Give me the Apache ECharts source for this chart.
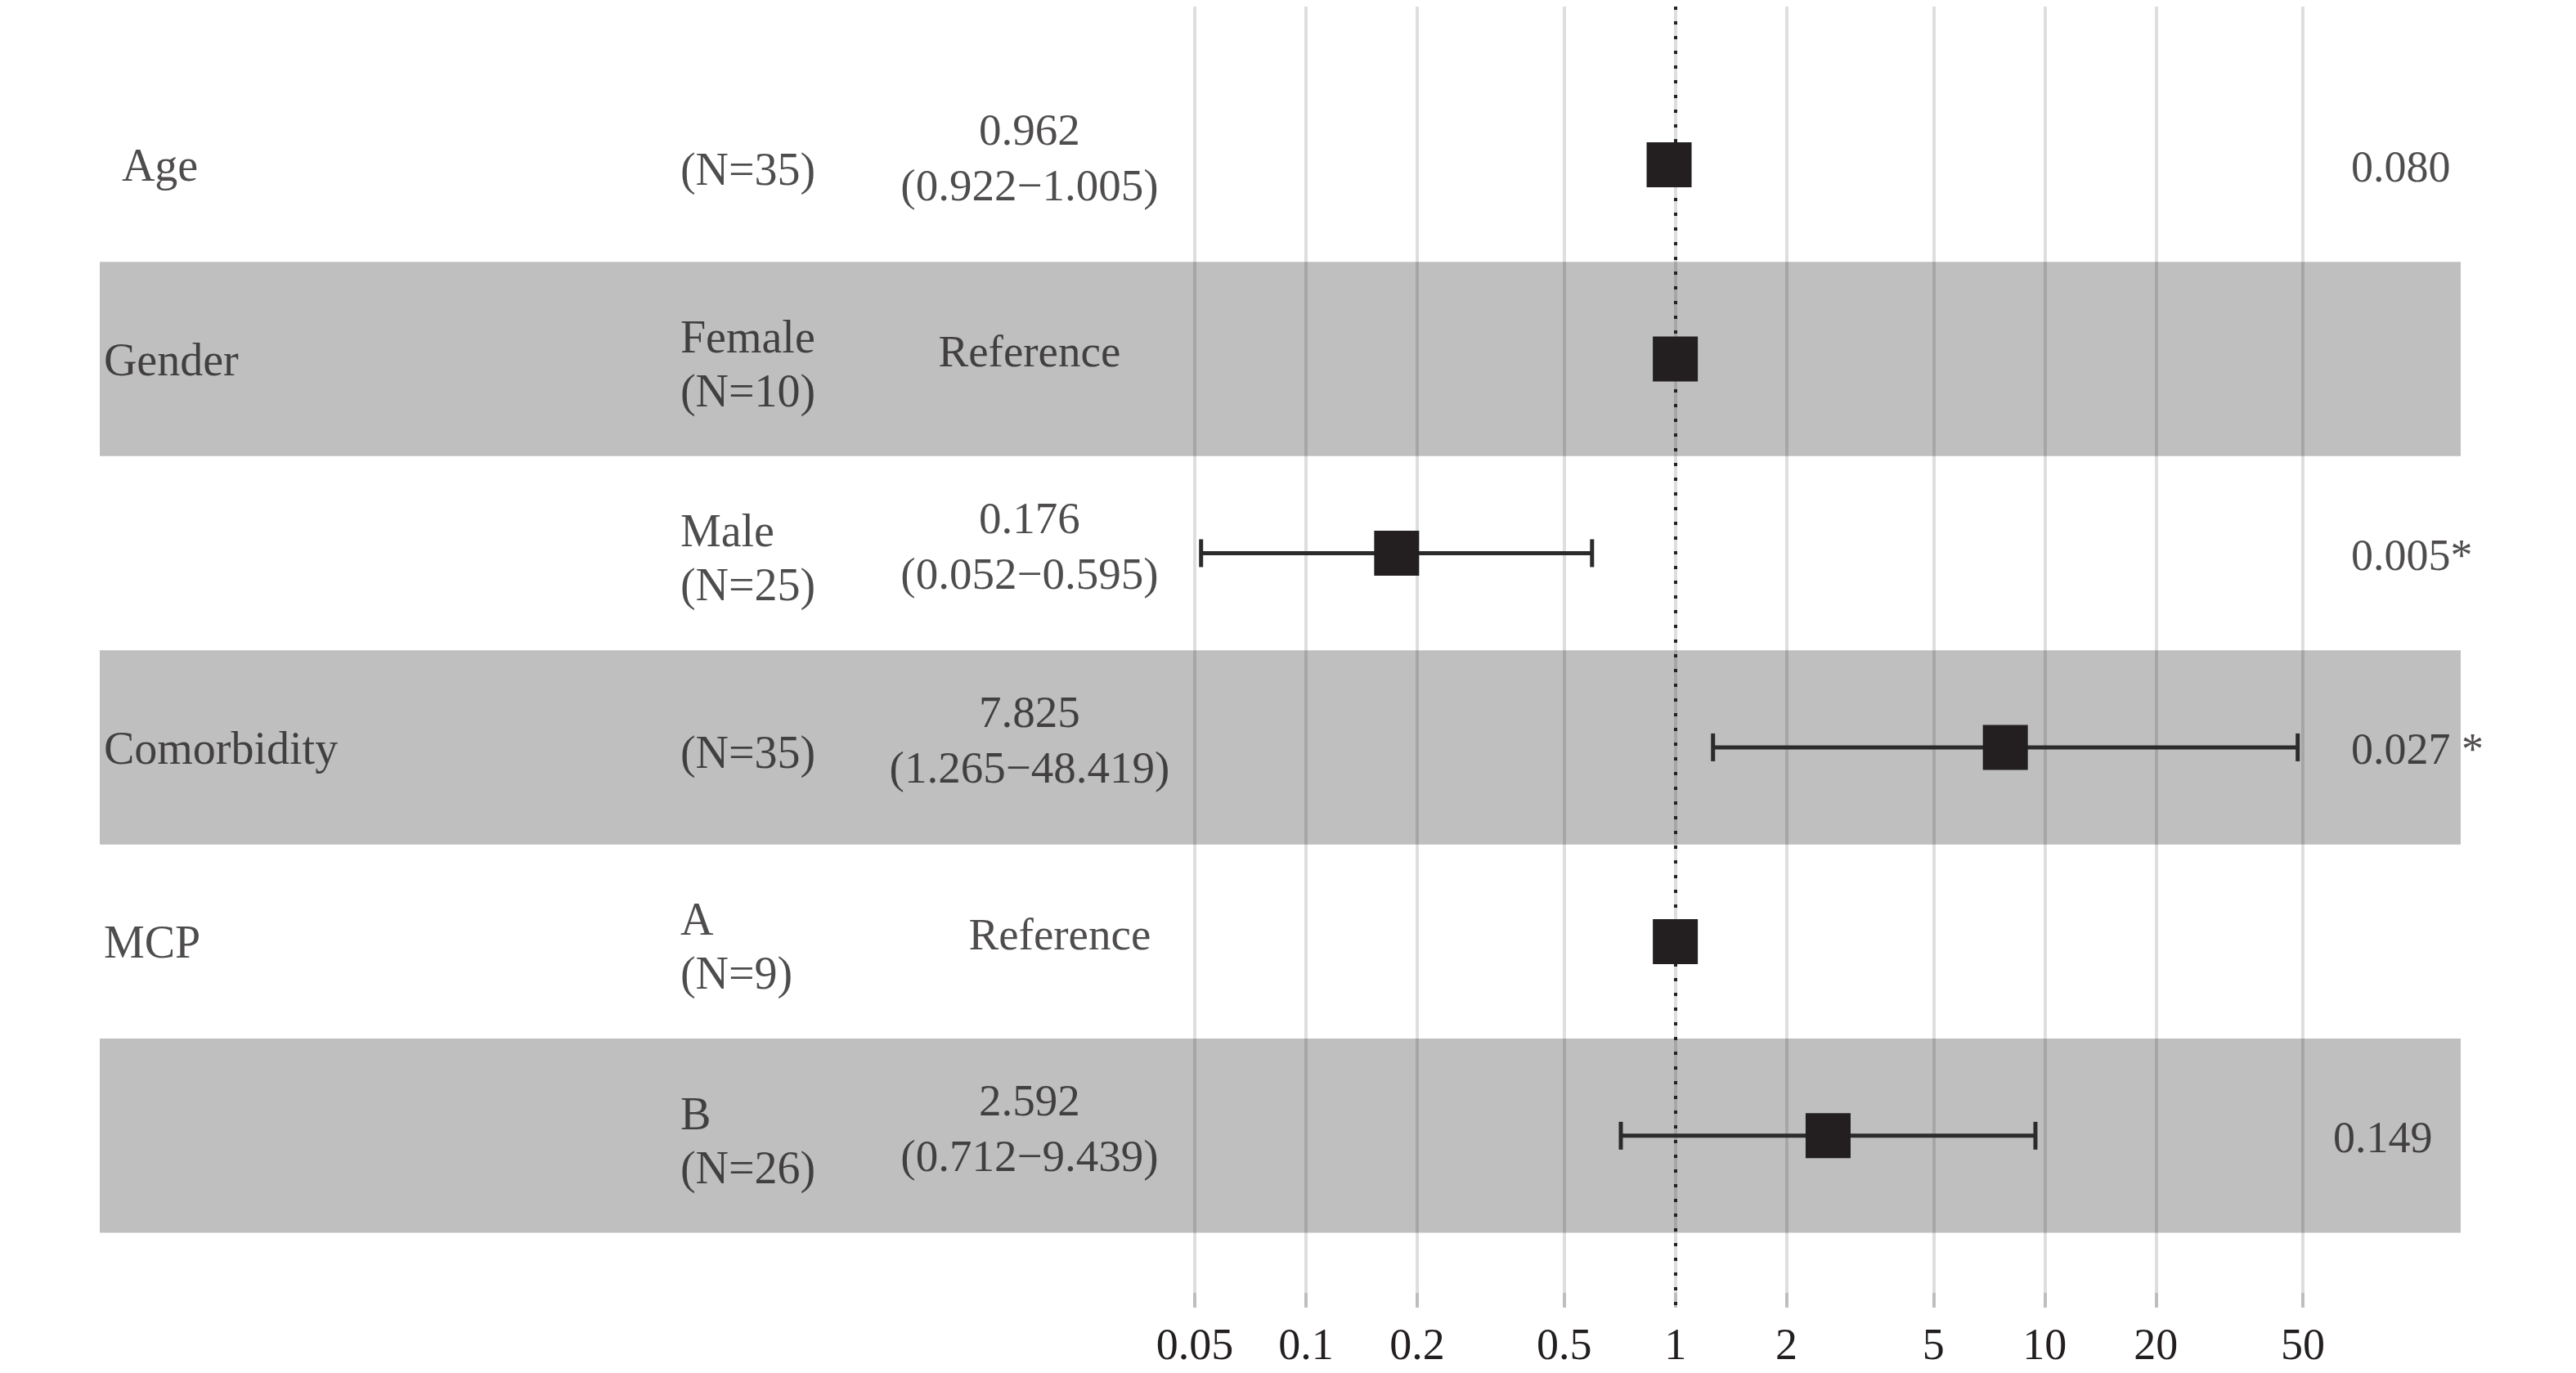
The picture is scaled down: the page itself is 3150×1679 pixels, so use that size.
<!DOCTYPE html>
<html><head><meta charset="utf-8">
<script src="https://cdn.jsdelivr.net/npm/echarts@6/dist/echarts.min.js"></script>
<style>html,body{margin:0;padding:0;background:#fff}#c{width:3150px;height:1679px}</style>
</head><body><div id="c"></div>
<script>
// ---- data ----
const variables = ['Age', 'Gender', '', 'Comorbidity', 'MCP', ''];
const levels = ['(N=35)', 'Female\n(N=10)', 'Male\n(N=25)', '(N=35)', 'A\n(N=9)', 'B\n(N=26)'];
const oddsRatio = [0.962, 1, 0.176, 7.825, 1, 2.592];
const ciLower = [0.922, null, 0.052, 1.265, null, 0.712];
const ciUpper = [1.005, null, 0.595, 48.419, null, 9.439];
const isReference = [false, true, false, false, true, false];
const pValues = ['0.080', '', '0.005*', '0.027 *', '', '0.149'];
const tickValues = [0.05, 0.1, 0.2, 0.5, 1, 2, 5, 10, 20, 50];
const tickLabels = ['0.05', '0.1', '0.2', '0.5', '1', '2', '5', '10', '20', '50'];
const nullLine = 1;

// ---- build ----
const FONT = 'Liberation Serif';
const INK = '#231f20';
const rowMin = -0.815, rowMax = 5.885;
const gridTop = 8, gridHeight = 1591;
const logTicks = tickValues.map(v => Math.log10(v));

const orTexts = oddsRatio.map((v, i) => isReference[i] ? 'Reference'
  : v.toFixed(3) + '\n(' + ciLower[i].toFixed(3) + '\u2212' + ciUpper[i].toFixed(3) + ')');

const nudge = { name: { 0: 22 }, or: { 4: 37 }, p: { 5: -22 } };

function textSeries(texts, x, align, key, size, lh, dy) {
  return {
    type: 'scatter', xAxisIndex: 0, yAxisIndex: 0, symbolSize: 0, silent: true, z: 4,
    data: texts.map((t, i) => t ? {
      value: [x, i, t],
      label: { offset: [(nudge[key] && nudge[key][i]) || 0, dy] }
    } : null).filter(d => d),
    label: {
      show: true, position: 'inside', align: align, verticalAlign: 'middle',
      formatter: p => p.value[2], fontFamily: FONT, fontSize: size, color: INK, lineHeight: lh
    }
  };
}

const bandRows = variables.map((_, i) => i).filter(i => i % 2 === 1);

const nameSeries = textSeries(variables, 0.0017, 'left', 'name', 56, 66, 5);
nameSeries.markArea = {
  silent: true, z: 1,
  itemStyle: { color: '#bfbfbf' },
  label: { show: false },
  data: bandRows.map(r => [{ yAxis: r - 0.5 }, { yAxis: r + 0.5 }])
};

const ciData = [];
oddsRatio.forEach((v, i) => {
  if (ciLower[i] != null) ciData.push([Math.log10(ciLower[i]), Math.log10(ciUpper[i]), i]);
});

const option = {
  backgroundColor: '#fff',
  animation: false,
  textStyle: { fontFamily: FONT },
  grid: [
    { left: 122, width: 2887, top: gridTop, height: gridHeight },
    { left: 1461, width: 1355, top: gridTop, height: gridHeight }
  ],
  xAxis: [
    { gridIndex: 0, type: 'value', min: 0, max: 1, show: false },
    {
      gridIndex: 1, type: 'value', z: 3, position: 'bottom',
      min: logTicks[0], max: logTicks[logTicks.length - 1],
      axisLine: { show: false, onZero: false },
      axisTick: { show: true, inside: true, length: 18, customValues: logTicks,
        lineStyle: { color: 'rgba(0,0,0,0.14)', width: 4 } },
      axisLabel: {
        customValues: logTicks, fontFamily: FONT, fontSize: 54, color: INK, margin: 22,
        formatter: val => {
          const k = logTicks.findIndex(t => Math.abs(t - val) < 1e-6);
          return k >= 0 ? tickLabels[k] : '';
        }
      },
      splitLine: { show: true, lineStyle: { color: 'rgba(0,0,0,0.13)', width: 4 } }
    }
  ],
  yAxis: [
    { gridIndex: 0, type: 'value', min: rowMin, max: rowMax, inverse: true, show: false },
    { gridIndex: 1, type: 'value', min: rowMin, max: rowMax, inverse: true, show: false }
  ],
  series: [
    nameSeries,
    textSeries(levels, 0.2459, 'left', 'lvl', 56, 66, 10),
    textSeries(orTexts, 0.3938, 'center', 'or', 55, 68, -5),
    textSeries(pValues, 0.9536, 'left', 'p', 54, 66, 6),
    {
      type: 'custom', xAxisIndex: 1, yAxisIndex: 1, z: 5, silent: true,
      data: ciData,
      encode: { x: [0, 1], y: 2 },
      renderItem: (params, api) => {
        const y = api.value(2);
        const a = api.coord([api.value(0), y]);
        const b = api.coord([api.value(1), y]);
        const h = 17;
        const st = { stroke: '#2b2b2b', lineWidth: 5 };
        return {
          type: 'group', children: [
            { type: 'line', shape: { x1: a[0], y1: a[1], x2: b[0], y2: b[1] }, style: st },
            { type: 'line', shape: { x1: a[0], y1: a[1] - h, x2: a[0], y2: a[1] + h }, style: st },
            { type: 'line', shape: { x1: b[0], y1: b[1] - h, x2: b[0], y2: b[1] + h }, style: st }
          ]
        };
      },
      markLine: {
        silent: true, z: 4, symbol: ['none', 'none'], label: { show: false },
        lineStyle: { color: '#222', width: 4, type: [4, 14] },
        data: [{ xAxis: Math.log10(nullLine) }]
      }
    },
    {
      type: 'scatter', xAxisIndex: 1, yAxisIndex: 1, z: 6, silent: true,
      symbol: 'rect', symbolSize: 55,
      itemStyle: { color: INK, opacity: 1 },
      data: oddsRatio.map((v, i) => [Math.log10(v), i])
    }
  ]
};

echarts.init(document.getElementById('c')).setOption(option);
</script>
</body></html>
